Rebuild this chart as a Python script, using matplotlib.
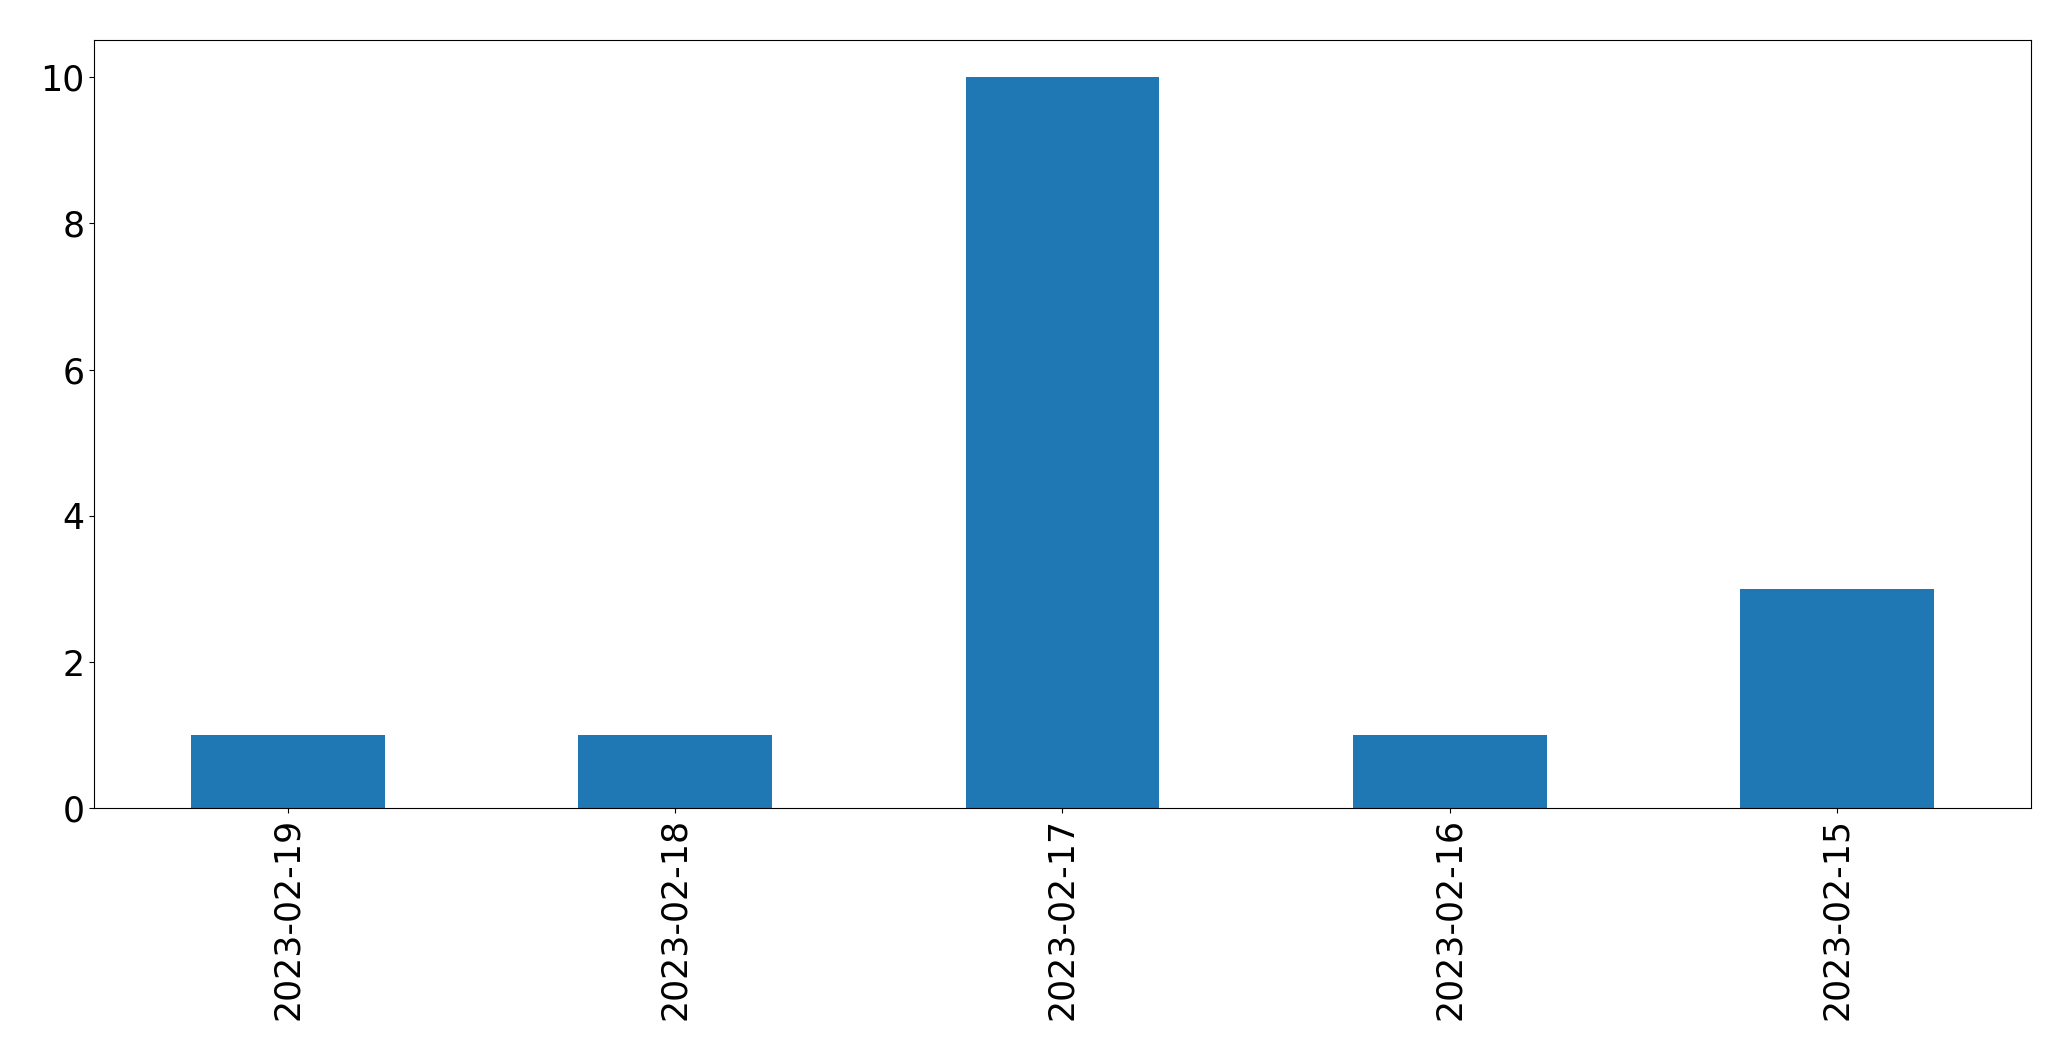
import matplotlib
matplotlib.use("Agg")
import matplotlib.pyplot as plt
import pandas as pd

# Counts per day
dates = ["2023-02-19", "2023-02-18", "2023-02-17", "2023-02-16", "2023-02-15"]
counts = [1, 1, 10, 1, 3]

plt.rcParams["font.size"] = 25

s = pd.Series(counts, index=dates)

fig = plt.figure(figsize=(20.71, 10.61), dpi=100)
ax = fig.add_subplot(111)
s.plot(kind="bar", ax=ax, color="#1f77b4")

plt.subplots_adjust(left=0.0455, right=0.9805, top=0.962, bottom=0.238)
plt.savefig("out.png")
